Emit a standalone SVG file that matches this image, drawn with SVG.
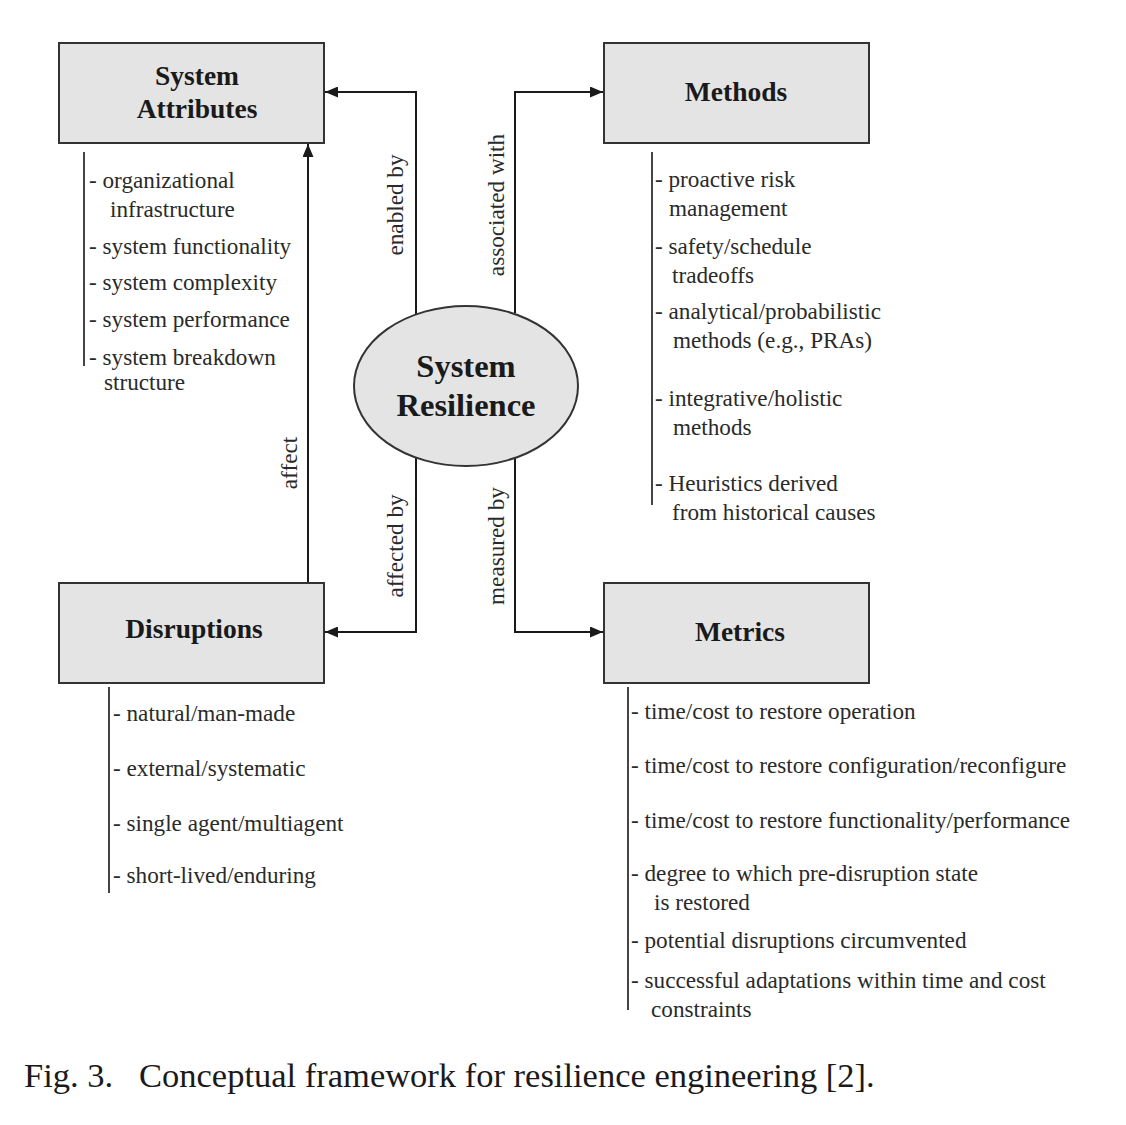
<svg xmlns="http://www.w3.org/2000/svg" width="1126" height="1125" viewBox="0 0 1126 1125">
<style>
.box{fill:#e4e4e4;stroke:#333;stroke-width:2}
.title{font-family:"Liberation Serif",serif;font-weight:bold;font-size:27.5px;fill:#1a1a1a;text-anchor:middle}
.big{font-family:"Liberation Serif",serif;font-weight:bold;font-size:32.5px;fill:#1a1a1a;text-anchor:middle}
.item{font-family:"Liberation Serif",serif;font-size:23.2px;fill:#2a2a2a}
.lab{font-family:"Liberation Serif",serif;font-size:23.2px;fill:#2a2a2a;text-anchor:middle}
.bar{stroke:#444;stroke-width:2;fill:none}
.conn{stroke:#1a1a1a;stroke-width:2;fill:none}
.cap{font-family:"Liberation Serif",serif;font-size:34.5px;fill:#1a1a1a}
</style>
<defs>
<marker id="arr" markerWidth="13" markerHeight="11" refX="13" refY="5.5" orient="auto" markerUnits="userSpaceOnUse">
<path d="M0,0 L13,5.5 L0,11 Z" fill="#1a1a1a"/>
</marker>
</defs>
<rect width="1126" height="1125" fill="#fff"/>

<g id="connectors">
<polyline class="conn" points="416,315 416,92 325,92" marker-end="url(#arr)"/>
<polyline class="conn" points="515,313 515,92 603,92" marker-end="url(#arr)"/>
<polyline class="conn" points="416,458 416,632 325,632" marker-end="url(#arr)"/>
<polyline class="conn" points="515,458 515,632 603,632" marker-end="url(#arr)"/>
<line class="conn" x1="308" y1="582" x2="308" y2="144" marker-end="url(#arr)"/>
<text class="lab" transform="translate(403,205) rotate(-90)">enabled by</text>
<text class="lab" transform="translate(504,205) rotate(-90)">associated with</text>
<text class="lab" transform="translate(403,546) rotate(-90)">affected by</text>
<text class="lab" transform="translate(504,546) rotate(-90)">measured by</text>
<text class="lab" transform="translate(297,463) rotate(-90)">affect</text>
</g>

<g id="system-resilience">
<ellipse cx="466" cy="386" rx="112" ry="80" fill="#e4e4e4" stroke="#333" stroke-width="2"/>
<text class="big" x="466" y="377">System</text>
<text class="big" x="466" y="416">Resilience</text>
</g>

<g id="system-attributes">
<rect class="box" x="59" y="43" width="265" height="100"/>
<text class="title" x="197" y="85">System</text>
<text class="title" x="197" y="118">Attributes</text>
<line class="bar" x1="84" y1="152" x2="84" y2="366"/>
<text class="item" x="89" y="188">- organizational</text>
<text class="item" x="110" y="217">infrastructure</text>
<text class="item" x="89" y="254">- system functionality</text>
<text class="item" x="89" y="290">- system complexity</text>
<text class="item" x="89" y="327">- system performance</text>
<text class="item" x="89" y="365">- system breakdown</text>
<text class="item" x="104" y="390">structure</text>
</g>

<g id="methods">
<rect class="box" x="604" y="43" width="265" height="100"/>
<text class="title" x="736" y="101">Methods</text>
<line class="bar" x1="652" y1="152" x2="652" y2="505"/>
<text class="item" x="655" y="187">- proactive risk</text>
<text class="item" x="669" y="216">management</text>
<text class="item" x="655" y="254">- safety/schedule</text>
<text class="item" x="672" y="283">tradeoffs</text>
<text class="item" x="655" y="319">- analytical/probabilistic</text>
<text class="item" x="673" y="348">methods (e.g., PRAs)</text>
<text class="item" x="655" y="406">- integrative/holistic</text>
<text class="item" x="673" y="435">methods</text>
<text class="item" x="655" y="491">- Heuristics derived</text>
<text class="item" x="672" y="520">from historical causes</text>
</g>

<g id="disruptions">
<rect class="box" x="59" y="583" width="265" height="100"/>
<text class="title" x="194" y="638">Disruptions</text>
<line class="bar" x1="109" y1="687" x2="109" y2="893"/>
<text class="item" x="113" y="721">- natural/man-made</text>
<text class="item" x="113" y="776">- external/systematic</text>
<text class="item" x="113" y="831">- single agent/multiagent</text>
<text class="item" x="113" y="883">- short-lived/enduring</text>
</g>

<g id="metrics">
<rect class="box" x="604" y="583" width="265" height="100"/>
<text class="title" x="740" y="641">Metrics</text>
<line class="bar" x1="628" y1="687" x2="628" y2="1010"/>
<text class="item" x="631" y="719">- time/cost to restore operation</text>
<text class="item" x="631" y="773">- time/cost to restore configuration/reconfigure</text>
<text class="item" x="631" y="828">- time/cost to restore functionality/performance</text>
<text class="item" x="631" y="881">- degree to which pre-disruption state</text>
<text class="item" x="654" y="910">is restored</text>
<text class="item" x="631" y="948">- potential disruptions circumvented</text>
<text class="item" x="631" y="988">- successful adaptations within time and cost</text>
<text class="item" x="651" y="1017">constraints</text>
</g>

<text class="cap" x="24" y="1087" xml:space="preserve">Fig. 3.   Conceptual framework for resilience engineering [2].</text>
</svg>
